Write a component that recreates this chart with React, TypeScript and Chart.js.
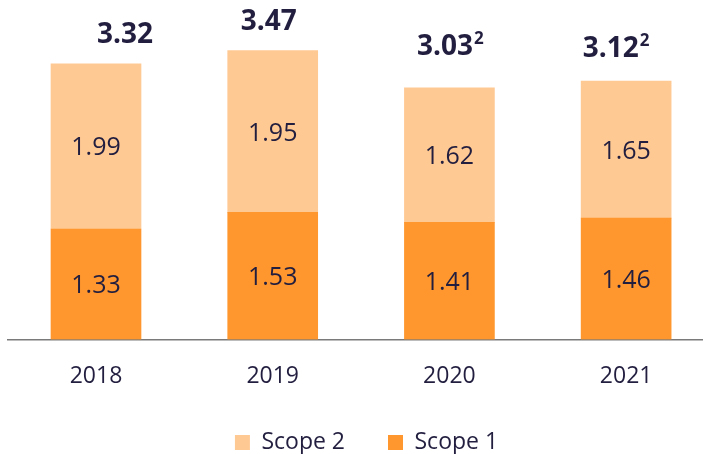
import React, { useEffect, useRef } from "react";
import { Chart, registerables } from "chart.js";

Chart.register(...registerables);

const years = ["2018", "2019", "2020", "2021"];
const scope1 = [1.33, 1.53, 1.41, 1.46];
const scope2 = [1.99, 1.95, 1.62, 1.65];
const totals = ["3.32", "3.47", "3.03", "3.12"];
const footnotes = ["", "", "2", "2"];

const totalShiftX = [29, -4, 1, -10];
const totalGap = [21, 20, 33, 24];

const FONT = "'Open Sans', 'Noto Sans', sans-serif";
const TEXT = "#221e3f";
const LIGHT = "#FFC993";
const ORANGE = "#FF972E";

const labelsPlugin = {
  id: "valueLabels",
  afterLayout(chart: any) {
    if (chart.legend) {
      chart.legend.left += 11;
      chart.legend.right += 11;
    }
  },
  afterDatasetsDraw(chart: any) {
    const ctx = chart.ctx;
    ctx.save();
    ctx.fillStyle = TEXT;
    ctx.textAlign = "center";
    ctx.textBaseline = "middle";
    ctx.font = `400 25px ${FONT}`;
    chart.data.datasets.forEach((ds: any, di: number) => {
      const meta = chart.getDatasetMeta(di);
      meta.data.forEach((el: any, i: number) => {
        const v = ds.data[i].y;
        ctx.fillText(v.toFixed(2), el.x, (el.y + el.base) / 2 + 2);
      });
    });
    const topMeta = chart.getDatasetMeta(1);
    topMeta.data.forEach((el: any, i: number) => {
      const main = totals[i];
      const sup = footnotes[i];
      ctx.font = `700 28px ${FONT}`;
      const w = ctx.measureText(main).width;
      ctx.font = `700 17px ${FONT}`;
      const sw = sup ? ctx.measureText(sup).width + 1 : 0;
      const cx = el.x + totalShiftX[i];
      const x0 = cx - (w + sw) / 2;
      const by = el.y - totalGap[i];
      ctx.textAlign = "left";
      ctx.textBaseline = "alphabetic";
      ctx.font = `700 28px ${FONT}`;
      ctx.fillText(main, x0, by);
      if (sup) {
        ctx.font = `700 17px ${FONT}`;
        ctx.fillText(sup, x0 + w + 1, by - 11);
      }
    });
    ctx.restore();
  },
};

export default function App() {
  const ref = useRef<HTMLCanvasElement | null>(null);
  useEffect(() => {
    if (!ref.current) return;
    const chart = new Chart(ref.current, {
      type: "bar",
      data: {
        datasets: [
          {
            label: "Scope 1",
            data: scope1.map((v, i) => ({ x: i, y: v })),
            backgroundColor: ORANGE,
            barThickness: 90,
          },
          {
            label: "Scope 2",
            data: scope2.map((v, i) => ({ x: i, y: v })),
            backgroundColor: LIGHT,
            barThickness: 90,
          },
        ],
      },
      options: {
        animation: false,
        responsive: false,
        maintainAspectRatio: false,
        layout: { padding: { left: 8, right: 0, top: 0, bottom: -10 } },
        plugins: {
          legend: {
            position: "bottom",
            reverse: true,
            labels: {
              font: { family: FONT, size: 23 },
              color: TEXT,
              boxWidth: 15,
              boxHeight: 15,
              padding: 43,
            },
          },
          tooltip: { enabled: false },
        },
        scales: {
          x: {
            type: "linear",
            stacked: true,
            offset: false,
            min: -0.498,
            max: 3.435,
            grid: { display: false },
            border: { display: true, color: "#7a7a7a", width: 1.5 },
            afterFit: (s: any) => {
              s.height = s.height - 17;
            },
            ticks: {
              includeBounds: false,
              stepSize: 1,
              autoSkip: false,
              maxRotation: 0,
              padding: 15,
              color: TEXT,
              font: { family: FONT, size: 23 },
              callback: (v: any) => years[v] ?? "",
            },
          },
          y: {
            stacked: true,
            display: false,
            min: 0,
            max: 4.088,
          },
        },
      },
      plugins: [labelsPlugin],
    });
    return () => chart.destroy();
  }, []);
  return (
    <div style={{ position: "absolute", left: 0, top: 0, width: 703, height: 454 }}>
      <canvas ref={ref} width={703} height={454} />
    </div>
  );
}
